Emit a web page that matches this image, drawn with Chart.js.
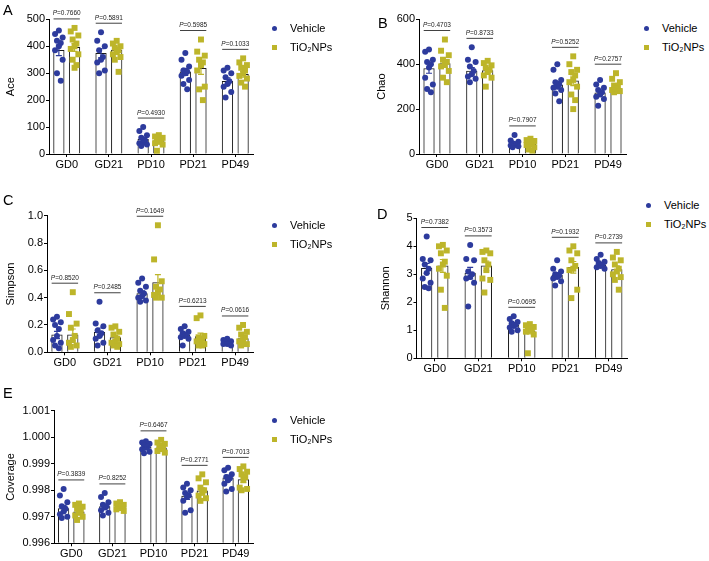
<!DOCTYPE html>
<html>
<head>
<meta charset="utf-8">
<script src="https://cdn.jsdelivr.net/npm/chart.js@4.4.1/dist/chart.umd.min.js"></script>
<style>
  body { margin: 0; background: #fff; width: 709px; height: 561px; position: relative; overflow: hidden;
         font-family: "Liberation Sans", Arial, Helvetica, sans-serif; color: #000; }
  canvas { position: absolute; }
  .letter { position: absolute; font-size: 14.5px; line-height: 15px; z-index: 2; }
  .mk { position: absolute; width: 5px; height: 5px; z-index: 2; }
  .lt { position: absolute; font-size: 11px; line-height: 14px; white-space: nowrap; z-index: 2; }
</style>
</head>
<body>
<script>
// shared
var categories = ['GD0', 'GD21', 'PD10', 'PD21', 'PD49'];
var seriesNames = ['Vehicle', 'TiO₂NPs'];
var seriesColors = ['#2d3b9d', '#bdb52a'];

// Ace
var aceVehicle = [
  [458, 445, 432, 420, 412, 400, 385, 350, 300, 272],
  [452, 420, 400, 385, 360, 350, 340, 310, 300],
  [100, 85, 70, 60, 50, 45, 40, 35, 30],
  [375, 350, 325, 310, 305, 300, 290, 275, 260, 240],
  [320, 310, 300, 285, 270, 260, 250, 230, 210]
];
var aceTiO2 = [
  [468, 455, 440, 425, 410, 400, 390, 370, 350, 330, 320],
  [420, 410, 400, 395, 385, 378, 370, 360, 350, 305],
  [70, 65, 60, 55, 50, 45, 40, 35, 12],
  [425, 380, 365, 350, 340, 330, 310, 250, 240, 200],
  [355, 340, 330, 320, 310, 300, 290, 280, 265, 250]
];
var aceMeanVehicle = [385, 374, 54, 305, 270];
var aceMeanTiO2 = [396, 386, 50, 318, 296];
var aceP = ['0.7660', '0.5891', '0.4930', '0.5985', '0.1033'];
var aceTicks = [0, 100, 200, 300, 400, 500];

// Chao
var chaoVehicle = [
  [465, 455, 420, 410, 400, 385, 340, 310, 290, 275],
  [475, 420, 410, 390, 370, 355, 345, 335, 320],
  [85, 60, 55, 48, 45, 40, 38, 35, 30],
  [400, 375, 330, 320, 310, 300, 295, 285, 270, 235],
  [330, 310, 295, 285, 275, 265, 255, 245, 215]
];
var chaoTiO2 = [
  [510, 460, 440, 420, 410, 400, 390, 370, 340, 320],
  [415, 405, 395, 385, 375, 365, 350, 340, 300],
  [68, 62, 58, 52, 48, 44, 40, 30, 20, 15],
  [435, 400, 375, 365, 350, 330, 320, 300, 265, 240, 200],
  [360, 335, 320, 305, 295, 290, 285, 280, 275]
];
var chaoMeanVehicle = [381, 369, 47, 307, 272];
var chaoMeanTiO2 = [403, 372, 44, 326, 292];
var chaoP = ['0.4703', '0.8733', '0.7907', '0.5252', '0.2757'];
var chaoTicks = [0, 200, 400, 600];

// Simpson
var simpsonVehicle = [
  [0.26, 0.24, 0.22, 0.20, 0.17, 0.12, 0.09, 0.07, 0.05, 0.03],
  [0.37, 0.21, 0.19, 0.16, 0.14, 0.12, 0.10, 0.07, 0.05],
  [0.54, 0.51, 0.48, 0.45, 0.43, 0.41, 0.40, 0.38, 0.37],
  [0.19, 0.17, 0.15, 0.14, 0.13, 0.12, 0.11, 0.10, 0.05],
  [0.10, 0.09, 0.08, 0.07, 0.065, 0.06, 0.06, 0.05]
];
var simpsonTiO2 = [
  [0.44, 0.28, 0.21, 0.18, 0.12, 0.09, 0.07, 0.05, 0.04],
  [0.19, 0.18, 0.15, 0.13, 0.10, 0.08, 0.07, 0.06, 0.05, 0.04],
  [0.93, 0.68, 0.52, 0.48, 0.46, 0.44, 0.42, 0.40, 0.40],
  [0.27, 0.25, 0.12, 0.11, 0.10, 0.09, 0.08, 0.06, 0.05, 0.05],
  [0.20, 0.18, 0.15, 0.13, 0.11, 0.09, 0.08, 0.06, 0.05]
];
var simpsonMeanVehicle = [0.127, 0.146, 0.43, 0.127, 0.066];
var simpsonMeanTiO2 = [0.127, 0.107, 0.51, 0.115, 0.10];
var simpsonP = ['0.8520', '0.2485', '0.1649', '0.6213', '0.0616'];
var simpsonTicks = [0, 0.2, 0.4, 0.6, 0.8, 1.0];

// Shannon
var shannonVehicle = [
  [4.35, 3.55, 3.50, 3.35, 3.20, 3.05, 2.85, 2.70, 2.55, 2.50],
  [4.05, 3.55, 3.50, 3.10, 3.00, 2.90, 2.85, 2.70, 1.85],
  [1.50, 1.40, 1.30, 1.25, 1.20, 1.15, 1.10, 1.00, 0.95],
  [3.50, 3.20, 3.10, 3.00, 2.95, 2.90, 2.85, 2.75, 2.60],
  [3.70, 3.55, 3.45, 3.40, 3.35, 3.30, 3.25, 3.20]
];
var shannonTiO2 = [
  [4.05, 4.00, 3.85, 3.75, 3.45, 3.35, 3.20, 2.95, 2.45, 1.80],
  [3.85, 3.80, 3.75, 3.50, 3.35, 3.15, 2.85, 2.80, 2.35],
  [1.22, 1.18, 1.12, 1.08, 1.05, 1.00, 0.95, 0.85, 0.18],
  [4.00, 3.85, 3.75, 3.50, 3.30, 3.20, 3.15, 2.45, 2.15],
  [3.80, 3.60, 3.50, 3.35, 3.20, 3.10, 3.00, 2.90, 2.80, 2.45]
];
var shannonMeanVehicle = [3.21, 3.04, 1.19, 2.97, 3.33];
var shannonMeanTiO2 = [3.30, 3.30, 0.98, 3.25, 3.17];
var shannonP = ['0.7382', '0.3573', '0.0695', '0.1932', '0.2739'];
var shannonTicks = [0, 1, 2, 3, 4, 5];

// Coverage
var coverageVehicle = [
  [0.99805, 0.99780, 0.99755, 0.99740, 0.99730, 0.99720, 0.99710, 0.99700, 0.99695],
  [0.99790, 0.99775, 0.99755, 0.99745, 0.99740, 0.99735, 0.99725, 0.99715, 0.99705],
  [0.99985, 0.99980, 0.99975, 0.99970, 0.99965, 0.99960, 0.99955, 0.99945, 0.99940],
  [0.99825, 0.99810, 0.99800, 0.99790, 0.99780, 0.99775, 0.99760, 0.99725, 0.99715],
  [0.99885, 0.99875, 0.99860, 0.99850, 0.99845, 0.99838, 0.99825, 0.99805, 0.99795]
];
var coverageTiO2 = [
  [0.99750, 0.99745, 0.99738, 0.99730, 0.99720, 0.99715, 0.99705, 0.99700, 0.99688],
  [0.99755, 0.99750, 0.99745, 0.99740, 0.99738, 0.99733, 0.99728, 0.99722],
  [0.99990, 0.99980, 0.99975, 0.99968, 0.99962, 0.99955, 0.99948, 0.99942],
  [0.99860, 0.99845, 0.99830, 0.99810, 0.99800, 0.99790, 0.99780, 0.99770, 0.99760],
  [0.99890, 0.99880, 0.99870, 0.99860, 0.99850, 0.99840, 0.99810, 0.99805, 0.99800]
];
var coverageMeanVehicle = [0.99731, 0.99738, 0.99963, 0.99778, 0.99847];
var coverageMeanTiO2 = [0.99719, 0.99738, 0.99960, 0.99798, 0.99840];
var coverageP = ['0.3839', '0.8252', '0.6467', '0.2771', '0.7013'];
var coverageTicks = [0.996, 0.997, 0.998, 0.999, 1.000, 1.001];

var FONT = '"Liberation Sans", Arial, Helvetica, sans-serif';
var barOffset = 0.186;   // bar centre distance from category centre
var barWidth = 10.6;
var jitter = [0, -0.09, 0.09, -0.045, 0.045];

function sem(arr) {
  var n = arr.length;
  var m = arr.reduce(function(a, b) { return a + b; }, 0) / n;
  var v = arr.reduce(function(a, b) { return a + (b - m) * (b - m); }, 0) / (n - 1);
  return Math.sqrt(v / n);
}

// error bars and P-value brackets
var extrasPlugin = {
  id: 'extras',
  afterDatasetsDraw: function(chart) {
    var o = chart.options.plugins.extras;
    var ctx = chart.ctx, xs = chart.scales.x, ys = chart.scales.y;
    ctx.save();
    [o.vehicle, o.tio2].forEach(function(groups, s) {
      ctx.strokeStyle = seriesColors[s];
      ctx.lineWidth = 1.2;
      groups.forEach(function(vals, i) {
        var mean = o.means[s][i], e = sem(vals);
        var px = xs.getPixelForValue(i + (s ? barOffset : -barOffset));
        var y1 = ys.getPixelForValue(mean + e), y2 = ys.getPixelForValue(mean - e);
        ctx.beginPath();
        ctx.moveTo(px, y1); ctx.lineTo(px, y2);
        ctx.moveTo(px - 3, y1); ctx.lineTo(px + 3, y1);
        ctx.moveTo(px - 3, y2); ctx.lineTo(px + 3, y2);
        ctx.stroke();
      });
    });
    ctx.strokeStyle = '#111';
    ctx.fillStyle = '#222';
    ctx.lineWidth = 0.8;
    ctx.textBaseline = 'alphabetic';
    ctx.textAlign = 'left';
    o.p.forEach(function(p, i) {
      var top = Math.max.apply(null, o.vehicle[i].concat(o.tio2[i]));
      var ly = ys.getPixelForValue(top) - 9;
      var x1 = xs.getPixelForValue(i - barOffset) - barWidth / 2;
      var x2 = xs.getPixelForValue(i + barOffset) + barWidth / 2;
      ctx.beginPath();
      ctx.moveTo(x1, ly); ctx.lineTo(x2, ly);
      ctx.stroke();
      ctx.font = 'italic 6.5px ' + FONT;
      var wP = ctx.measureText('P').width;
      ctx.font = '6.5px ' + FONT;
      var rest = '=' + p;
      var wR = ctx.measureText(rest).width;
      var sx = (x1 + x2) / 2 - (wP + wR) / 2;
      ctx.font = 'italic 6.5px ' + FONT;
      ctx.fillText('P', sx, ly - 3.5);
      ctx.font = '6.5px ' + FONT;
      ctx.fillText(rest, sx + wP, ly - 3.5);
    });
    ctx.restore();
  }
};

function addText(cls, text, css) {
  var d = document.createElement('div');
  d.className = cls;
  d.textContent = text;
  d.style.cssText = css;
  document.body.appendChild(d);
}

function addLegend(x, y) {
  seriesNames.forEach(function(name, s) {
    var cy = y + s * 19;
    addText('mk', '', 'left:' + (x - 2.5) + 'px;top:' + (cy - 2.5) + 'px;background:' + seriesColors[s] +
      ';border-radius:' + (s ? '0' : '50%'));
    addText('lt', name, 'left:' + (x + 16) + 'px;top:' + (cy - 7) + 'px');
  });
}

function buildPanel(p) {
  var canvas = document.createElement('canvas');
  canvas.width = p.box[2];
  canvas.height = p.box[3];
  canvas.style.left = p.box[0] + 'px';
  canvas.style.top = p.box[1] + 'px';
  document.body.appendChild(canvas);

  var datasets = [];
  [p.vehicle, p.tio2].forEach(function(groups, s) {
    var pts = [];
    groups.forEach(function(vals, i) {
      vals.forEach(function(v, k) {
        pts.push({ x: i + (s ? barOffset : -barOffset) + jitter[k % jitter.length], y: v });
      });
    });
    datasets.push({
      type: 'scatter', label: seriesNames[s], data: pts, order: 0,
      pointStyle: s ? 'rect' : 'circle', pointRadius: s ? 4.2 : 3,
      backgroundColor: seriesColors[s], borderWidth: 0, clip: false
    });
  });
  [p.meanVehicle, p.meanTiO2].forEach(function(means, s) {
    datasets.push({
      type: 'bar', label: seriesNames[s], order: 2,
      data: means.map(function(m, i) { return { x: i + (s ? barOffset : -barOffset), y: m }; }),
      backgroundColor: '#fff', borderColor: '#1a1a1a', borderWidth: 1,
      grouped: false, maxBarThickness: barWidth, categoryPercentage: 1, barPercentage: 1,
      base: p.ticks[0]
    });
  });

  var axisGrid = { display: true, drawOnChartArea: false, drawTicks: true, tickLength: 3,
                   color: '#000', lineWidth: 1, offset: false };
  new Chart(canvas, {
    type: 'bar',
    data: { datasets: datasets },
    plugins: [extrasPlugin],
    options: {
      responsive: false,
      animation: false,
      devicePixelRatio: 1,
      layout: { padding: { left: p.padLeft, top: p.padTop, right: p.padRight, bottom: 0 } },
      plugins: {
        legend: { display: false },
        tooltip: { enabled: false },
        extras: { vehicle: p.vehicle, tio2: p.tio2, means: [p.meanVehicle, p.meanTiO2], p: p.p }
      },
      scales: {
        x: {
          type: 'linear', min: -0.42, max: 4.42, offset: false,
          afterBuildTicks: function(s) { s.ticks = categories.map(function(c, i) { return { value: i }; }); },
          afterFit: function(s) { s.height = p.xHeight; },
          ticks: { callback: function(v) { return categories[v]; }, color: '#000',
                   font: { size: 11, family: FONT }, padding: 1, maxRotation: 0, autoSkip: false },
          grid: axisGrid,
          border: { color: '#000', width: 1 }
        },
        y: {
          type: 'linear', min: p.ticks[0], max: p.ticks[p.ticks.length - 1],
          afterBuildTicks: function(s) { s.ticks = p.ticks.map(function(v) { return { value: v }; }); },
          afterFit: function(s) { s.width = p.yWidth; },
          ticks: { callback: function(v) { return v.toFixed(p.dec); }, color: '#000',
                   font: { size: 11, family: FONT }, padding: 1 },
          title: { display: true, text: p.title, color: '#000', font: { size: 11, family: FONT },
                   padding: { top: 4, bottom: 4 } },
          grid: axisGrid,
          border: { color: '#000', width: 1 }
        }
      }
    }
  });
  addText('letter', p.letter, 'left:' + p.letterPos[0] + 'px;top:' + p.letterPos[1] + 'px');
  addLegend(p.legendPos[0], p.legendPos[1]);
}

buildPanel({ letter: 'A', letterPos: [3, 3], title: 'Ace', dec: 0,
  vehicle: aceVehicle, tio2: aceTiO2, meanVehicle: aceMeanVehicle, meanTiO2: aceMeanTiO2,
  p: aceP, ticks: aceTicks,
  box: [0, 0, 260, 180], padLeft: 0, yWidth: 49, padTop: 19.3, padRight: 7, xHeight: 26,
  legendPos: [274, 28] });

buildPanel({ letter: 'B', letterPos: [378, 16], title: 'Chao', dec: 0,
  vehicle: chaoVehicle, tio2: chaoTiO2, meanVehicle: chaoMeanVehicle, meanTiO2: chaoMeanTiO2,
  p: chaoP, ticks: chaoTicks,
  box: [355, 0, 280, 180], padLeft: 16, yWidth: 48, padTop: 19.3, padRight: 9, xHeight: 26,
  legendPos: [646, 28] });

buildPanel({ letter: 'C', letterPos: [3, 193], title: 'Simpson', dec: 1,
  vehicle: simpsonVehicle, tio2: simpsonTiO2, meanVehicle: simpsonMeanVehicle, meanTiO2: simpsonMeanTiO2,
  p: simpsonP, ticks: simpsonTicks,
  box: [0, 180, 260, 200], padLeft: 0, yWidth: 47, padTop: 35.7, padRight: 7, xHeight: 27.7,
  legendPos: [274, 225] });

buildPanel({ letter: 'D', letterPos: [377, 207], title: 'Shannon', dec: 0,
  vehicle: shannonVehicle, tio2: shannonTiO2, meanVehicle: shannonMeanVehicle, meanTiO2: shannonMeanTiO2,
  p: shannonP, ticks: shannonTicks,
  box: [355, 180, 280, 205], padLeft: 20, yWidth: 41.5, padTop: 38.3, padRight: 8, xHeight: 26.7,
  legendPos: [648, 205] });

buildPanel({ letter: 'E', letterPos: [3, 386], title: 'Coverage', dec: 3,
  vehicle: coverageVehicle, tio2: coverageTiO2, meanVehicle: coverageMeanVehicle, meanTiO2: coverageMeanTiO2,
  p: coverageP, ticks: coverageTicks,
  box: [0, 370, 260, 191], padLeft: 0, yWidth: 54, padTop: 40.7, padRight: 7, xHeight: 17.7,
  legendPos: [274, 420] });
</script>
</body>
</html>
